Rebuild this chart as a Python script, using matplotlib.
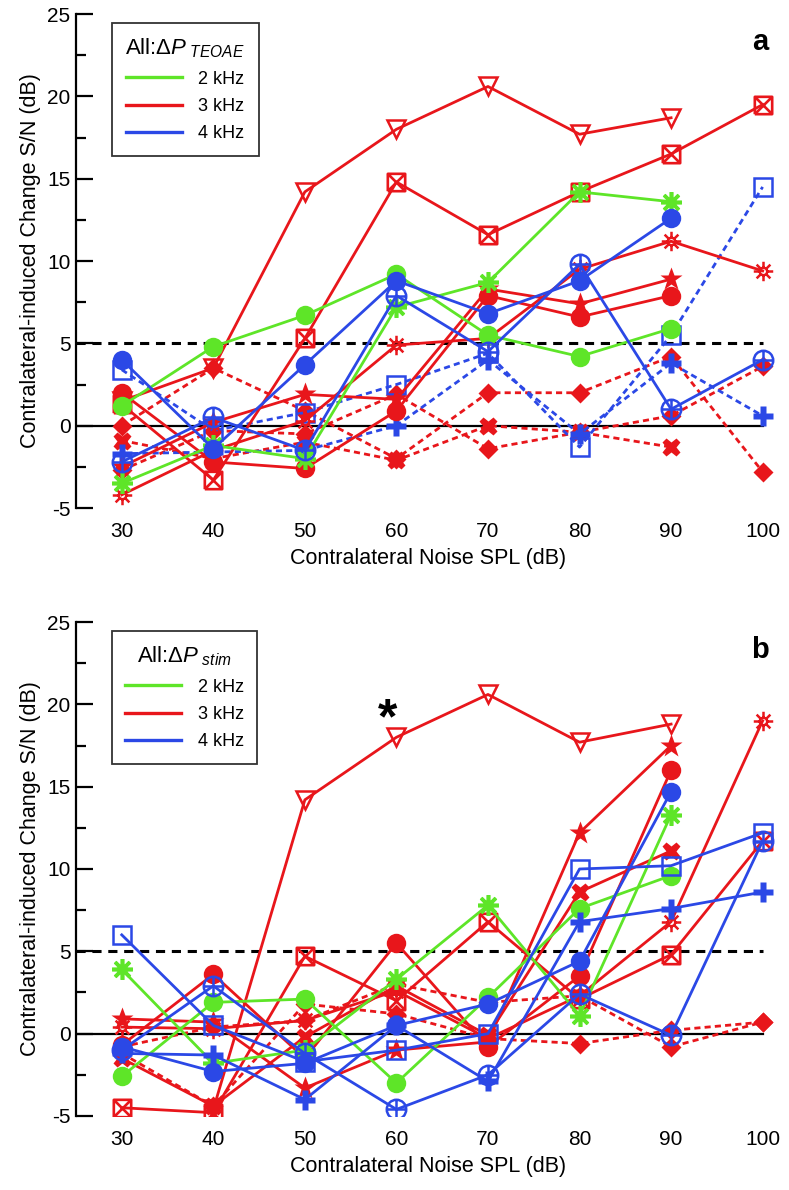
import numpy as np
import matplotlib
matplotlib.use('Agg')
import matplotlib.pyplot as plt
from matplotlib.path import Path
from matplotlib.lines import Line2D

plt.rcParams['font.family'] = ['Liberation Sans', 'DejaVu Sans']
plt.rcParams['mathtext.fontset'] = 'custom'
plt.rcParams['mathtext.rm'] = 'Liberation Sans'
plt.rcParams['mathtext.it'] = 'Liberation Sans:italic'
plt.rcParams['mathtext.bf'] = 'Liberation Sans:bold'
plt.rcParams['axes.unicode_minus'] = False

nan = np.nan
noise_spl = [30, 40, 50, 60, 70, 80, 90, 100]

# ---------- panel a : delta P TEOAE ----------
a_2k_circle = [1.2, 4.8, 6.7, 9.2, 5.5, 4.2, 5.9, nan]
a_2k_aster = [-3.5, -1.2, -2.0, 7.2, 8.7, 14.2, 13.6, nan]
a_3k_tri = [1.5, 3.5, 14.2, 18.0, 20.6, 17.7, 18.7, nan]
a_3k_xbox = [1.3, -3.3, 5.3, 14.8, 11.6, 14.2, 16.5, 19.5]
a_3k_circle = [2.0, -2.2, -2.6, 0.9, 7.9, 6.6, 7.9, nan]
a_3k_star = [-2.5, 0.2, 1.9, 1.6, 8.3, 7.4, 8.9, nan]
a_3k_sun = [-4.2, -1.5, 0.3, 4.9, 5.3, 9.5, 11.2, 9.4]
a_3k_diam1 = [0.0, 3.5, 0.9, -2.0, 2.0, 2.0, 4.2, -2.8]
a_3k_diam2 = [-2.7, -0.3, -0.5, 1.9, -1.4, -0.4, 0.6, 3.6]
a_3k_x = [-0.9, -2.0, -1.0, -2.1, 0.0, -0.4, -1.3, nan]
a_4k_circle = [4.0, -1.4, 3.7, 8.8, 6.8, 8.8, 12.6, nan]
a_4k_cplus = [-2.2, 0.5, -1.5, 7.9, 4.5, 9.8, 1.0, 4.0]
a_4k_square = [3.4, -0.3, 0.8, 2.5, 4.4, -1.3, 5.5, 14.5]
a_4k_plus = [-1.7, -1.6, -1.5, 0.0, 4.0, -0.5, 3.8, 0.6]

# ---------- panel b : delta P stim ----------
b_2k_circle = [-2.6, 1.9, 2.1, -3.0, 2.2, 7.6, 9.6, nan]
b_2k_aster = [3.9, -1.8, -1.0, 3.3, 7.8, 1.1, 13.3, nan]
b_3k_tri = [nan, -4.6, 14.2, 18.0, 20.6, 17.7, 18.8, nan]
b_3k_xbox = [-4.5, -4.8, 4.7, 2.0, 6.8, 2.1, 4.8, 11.7]
b_3k_circle = [-0.7, 3.6, -1.5, 5.5, -0.8, 3.5, 16.0, nan]
b_3k_star = [0.9, 0.7, -3.3, -1.0, -0.5, 12.2, 17.5, nan]
b_3k_sun = [0.4, 0.3, 0.8, 2.6, -0.3, 2.3, 6.8, 19.0]
b_3k_x = [-1.5, -4.4, -0.2, 2.9, -0.1, 8.6, 11.1, nan]
b_3k_diam1 = [-1.2, -4.4, 1.8, 1.2, -0.3, -0.6, 0.2, 0.7]
b_3k_diam2 = [-0.8, 0.4, 0.8, 3.0, 1.9, 2.3, -0.8, 0.7]
b_4k_circle = [-0.8, -2.3, -1.8, 0.5, 1.8, 4.4, 14.7, nan]
b_4k_square = [6.0, 0.5, -1.7, -1.0, 0.0, 10.0, 10.2, 12.2]
b_4k_plus = [-1.2, -1.3, -4.0, 0.5, -2.9, 6.8, 7.6, 8.6]
b_4k_cplus = [-1.0, 2.9, -1.2, -4.6, -2.5, 2.4, -0.1, 11.7]

freq_labels = ['2 kHz', '3 kHz', '4 kHz']
y_ticks = [-5, 0, 5, 10, 15, 20, 25]

GREEN = '#5EE528'
RED = '#E8161B'
BLUE = '#2B48E6'

M, L = Path.MOVETO, Path.LINETO
xbox_path = Path([(-1, -1), (1, -1), (1, 1), (-1, 1), (-1, -1), (-1, -1), (1, 1), (-1, 1), (1, -1)],
                 [M, L, L, L, L, M, L, M, L])
cplus_path = Path.make_compound_path(
    Path.unit_circle(),
    Path([(-1, 0), (1, 0), (0, -1), (0, 1)], [M, L, M, L]))
ang = np.arange(8) * np.pi / 4
spv, spc = [], []
for t in ang:
    spv += [(0.38 * np.cos(t), 0.38 * np.sin(t)), (np.cos(t), np.sin(t))]
    spc += [M, L]
sun_path = Path.make_compound_path(Path.circle((0, 0), 0.38), Path(spv, spc))

DASH = (0, (2.2, 1.5))

STY = {
    'circle': dict(marker='o', ms=14, mec='none'),
    'aster': dict(marker=(8, 2, 0), ms=15, mew=2.6, mfc='none'),
    'tri': dict(marker='v', ms=13, mfc='none', mew=1.8),
    'xbox': dict(marker=xbox_path, ms=12.5, mfc='none', mew=1.9),
    'star': dict(marker='*', ms=17, mec='none'),
    'sun': dict(marker=sun_path, ms=14, mfc='none', mew=1.8),
    'diam': dict(marker='D', ms=10.5, mec='none'),
    'x': dict(marker='X', ms=13, mec='none'),
    'square': dict(marker='s', ms=13, mfc='none', mew=1.8),
    'plus': dict(marker='P', ms=14, mec='none'),
    'cplus': dict(marker=cplus_path, ms=14, mfc='none', mew=1.8),
}

fig = plt.figure(figsize=(7.89, 11.90), dpi=100)
axA = fig.add_axes([0.0963, 0.5731, 0.8935, 0.4151])
axB = fig.add_axes([0.0963, 0.0622, 0.8935, 0.4151])


def draw(ax, series):
    for vals, color, mk, ls in series:
        st = dict(STY[mk])
        st.setdefault('mfc', color)
        st.setdefault('mec', color)
        ax.plot(noise_spl, vals, color=color, ls=ls, lw=2.0, **st)


seriesA = [
    (a_3k_diam2, RED, 'diam', DASH),
    (a_3k_diam1, RED, 'diam', DASH),
    (a_3k_x, RED, 'x', DASH),
    (a_4k_square, BLUE, 'square', DASH),
    (a_4k_plus, BLUE, 'plus', DASH),
    (a_3k_sun, RED, 'sun', '-'),
    (a_3k_star, RED, 'star', '-'),
    (a_3k_circle, RED, 'circle', '-'),
    (a_3k_tri, RED, 'tri', '-'),
    (a_3k_xbox, RED, 'xbox', '-'),
    (a_2k_aster, GREEN, 'aster', '-'),
    (a_2k_circle, GREEN, 'circle', '-'),
    (a_4k_cplus, BLUE, 'cplus', '-'),
    (a_4k_circle, BLUE, 'circle', '-'),
]
seriesB = [
    (b_3k_diam2, RED, 'diam', DASH),
    (b_3k_diam1, RED, 'diam', DASH),
    (b_3k_sun, RED, 'sun', '-'),
    (b_3k_x, RED, 'x', '-'),
    (b_3k_star, RED, 'star', '-'),
    (b_3k_circle, RED, 'circle', '-'),
    (b_3k_tri, RED, 'tri', '-'),
    (b_3k_xbox, RED, 'xbox', '-'),
    (b_2k_aster, GREEN, 'aster', '-'),
    (b_2k_circle, GREEN, 'circle', '-'),
    (b_4k_square, BLUE, 'square', '-'),
    (b_4k_plus, BLUE, 'plus', '-'),
    (b_4k_cplus, BLUE, 'cplus', '-'),
    (b_4k_circle, BLUE, 'circle', '-'),
]

for ax, series, title, letter in [
        (axA, seriesA, r'All:$\Delta P_{\ TEOAE}$', 'a'),
        (axB, seriesB, r'All:$\Delta P_{\ stim}$', 'b')]:
    ax.axhline(0, xmin=0, xmax=(100 - 25) / 77, color='black', lw=1.6, zorder=1)
    ax.plot([25, 100], [5, 5], color='black', lw=2.2, ls=(0, (3, 2.2)), zorder=1)
    draw(ax, series)
    ax.set_xlim(25, 102)
    ax.set_ylim(-5, 25)
    ax.spines['top'].set_visible(False)
    ax.spines['right'].set_visible(False)
    ax.spines['bottom'].set_visible(False)
    ax.spines['left'].set_linewidth(1.6)
    ax.set_yticks(y_ticks)
    ax.set_yticks(np.arange(-2.5, 25, 5), minor=True)
    ax.set_xticks(noise_spl)
    ax.tick_params(axis='y', which='major', direction='in', length=12, width=1.6,
                   labelsize=15, pad=4)
    ax.tick_params(axis='y', which='minor', direction='in', length=7.5, width=1.6)
    ax.tick_params(axis='x', length=0, labelsize=15, pad=10)
    ax.set_xlabel('Contralateral Noise SPL (dB)', fontsize=15.5, labelpad=5)
    ax.set_ylabel('Contralateral-induced Change S/N (dB)', fontsize=15.5, labelpad=4)
    ax.text(0.970, 0.943, letter, transform=ax.transAxes, fontsize=21,
            fontweight='bold', ha='center', va='center')
    handles = [Line2D([], [], color=c, lw=2.4) for c in (GREEN, RED, BLUE)]
    leg = ax.legend(handles, freq_labels, title=title, loc='upper left',
                    bbox_to_anchor=(0.051, 0.982), borderaxespad=0,
                    fontsize=13, title_fontsize=16, frameon=True,
                    fancybox=False, edgecolor='black', handlelength=3.1,
                    handletextpad=0.9, labelspacing=0.58, borderpad=0.75)
    leg.get_frame().set_linewidth(1.3)
    leg.set_zorder(5)

axB.text(59.0, 19.0, '*', fontsize=36, fontweight='bold', ha='center', va='center')

fig.savefig('out.png', dpi=100)
